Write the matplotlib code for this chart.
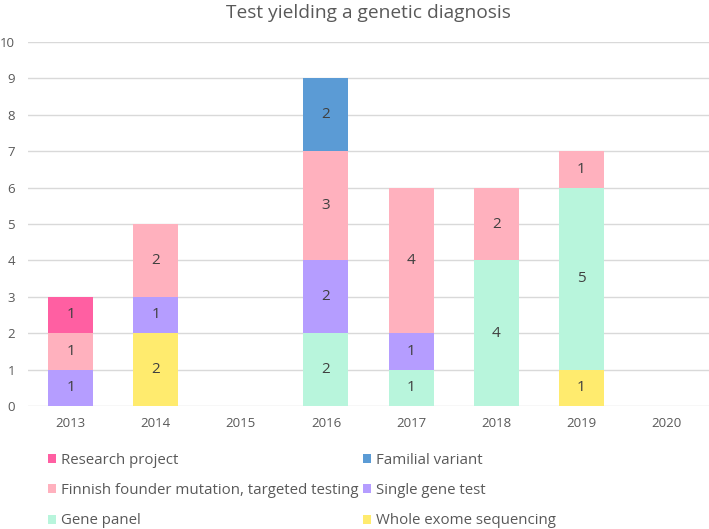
import matplotlib.pyplot as plt
import numpy as np

plt.rcParams['font.family'] = ['Open Sans', 'DejaVu Sans']

years = ['2013', '2014', '2015', '2016', '2017', '2018', '2019', '2020']
# stacked bottom -> top
wes = [0, 2, 0, 0, 0, 0, 1, 0]
panel = [0, 0, 0, 2, 1, 4, 5, 0]
single = [1, 1, 0, 2, 1, 0, 0, 0]
founder = [1, 2, 0, 3, 4, 2, 1, 0]
familial = [0, 0, 0, 2, 0, 0, 0, 0]
research = [1, 0, 0, 0, 0, 0, 0, 0]

series = [
    ('Whole exome sequencing', wes, '#FFEB6E'),
    ('Gene panel', panel, '#B8F5DC'),
    ('Single gene test', single, '#B59DFF'),
    ('Finnish founder mutation, targeted testing', founder, '#FFB1BE'),
    ('Familial variant', familial, '#5B9BD5'),
    ('Research project', research, '#FF5FA2'),
]

fig = plt.figure(figsize=(7.09, 5.29), dpi=100)
ax = fig.add_axes([28/709, 1 - 406/529, 1 - 28/709, (406 - 42)/529])

x = np.arange(len(years))
bottom = np.zeros(len(years))
handles = {}
for name, vals, col in series:
    vals = np.array(vals, dtype=float)
    b = ax.bar(x, vals, 0.53, bottom=bottom, color=col, zorder=2, label=name)
    handles[name] = b
    for xi, v, bt in zip(x, vals, bottom):
        if v > 0:
            ax.text(xi, bt + v / 2, f'{int(v)}', ha='center', va='center',
                    fontsize=11, color='#404040', zorder=3)
    bottom += vals

ax.set_xlim(-0.5, 7.5)
ax.set_ylim(0, 10)
ax.set_yticks(range(0, 11))
ax.set_xticks(x)
ax.set_xticklabels(years)
ax.grid(axis='y', color='#D9D9D9', linewidth=1, zorder=0)
for s in ax.spines.values():
    s.set_visible(False)
ax.tick_params(length=0, labelsize=9.5, colors='#595959')
ax.tick_params(axis='x', pad=8)
ax.tick_params(axis='y', pad=9.5)

ax.set_title('Test yielding a genetic diagnosis', fontsize=13.8, color='#595959', pad=17)

order = ['Research project', 'Finnish founder mutation, targeted testing', 'Gene panel',
         'Familial variant', 'Single gene test', 'Whole exome sequencing']
leg = fig.legend([handles[n] for n in order], order, ncol=2,
                 loc='upper left', bbox_to_anchor=(34/709, 1 - 439/529),
                 frameon=False, fontsize=10.8, handlelength=0.55, handleheight=0.55,
                 handletextpad=0.35, columnspacing=0.3, labelspacing=1.03)
for t in leg.get_texts():
    t.set_color('#595959')

fig.savefig('out.png', dpi=100)
